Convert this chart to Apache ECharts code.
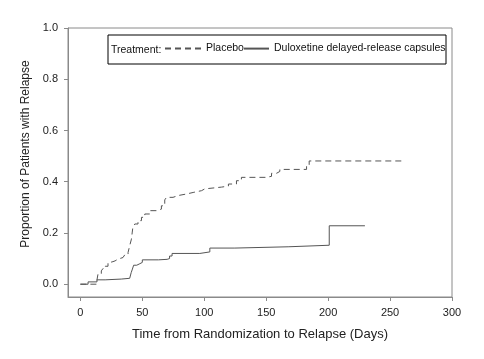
<!DOCTYPE html>
<html><head><meta charset="utf-8">
<script src="https://cdn.jsdelivr.net/npm/echarts@6/dist/echarts.min.js"></script>
<style>html,body{margin:0;padding:0;background:#fff}#c{width:484px;height:359px}</style>
</head><body><div id="c"></div>
<script>
const xTicks = [0, 50, 100, 150, 200, 250, 300];
const yTicks = [0, 0.2, 0.4, 0.6, 0.8, 1.0];
const seriesNames = ['Placebo', 'Duloxetine delayed-release capsules'];
const placeboDays = [0,12.9,13.5,14.2,16.9,18.2,20,22.3,24,26.3,28,30.4,34.4,36,38.5,39.8,41.2,41.8,42.3,43.9,46.5,49.3,52,56,61.4,65.4,68.1,69.5,74.8,78.9,85.6,91,97.8,100.4,114,119.5,126,130,150,154.3,158.4,161,182.6,184.7,261];
const placeboVals = [0,0.01,0.02,0.039,0.052,0.061,0.07,0.085,0.088,0.091,0.098,0.104,0.11,0.116,0.124,0.15,0.176,0.2,0.22,0.235,0.248,0.261,0.274,0.287,0.293,0.306,0.329,0.339,0.346,0.352,0.358,0.365,0.372,0.379,0.383,0.391,0.404,0.417,0.421,0.433,0.44,0.448,0.466,0.481,0.481];
const dulDays = [0,6.2,13.4,20,33,39.8,41,42,43,45.5,48,50,63,70,72,74,96.4,104.5,124.7,167.7,200.9,229.7];
const dulVals = [0,0.009,0.017,0.02,0.023,0.03,0.045,0.059,0.074,0.08,0.085,0.095,0.097,0.1,0.11,0.12,0.126,0.141,0.146,0.152,0.228,0.228];

const font = 'Arial, "Liberation Sans", sans-serif';
const chart = echarts.init(document.getElementById('c'), null, {renderer: 'canvas'});
const legendText = {fontSize: 10.5, fontFamily: font, color: '#111'};
chart.setOption({
  animation: false,
  backgroundColor: '#fff',
  grid: {left: 68, top: 28, right: 32, bottom: 62, show: true, borderColor: '#8a8a8a', borderWidth: 1},
  graphic: [
    {type: 'rect', shape: {x: 108, y: 35, width: 338, height: 29}, style: {fill: null, stroke: '#000', lineWidth: 1}},
    {type: 'text', x: 111, y: 50, style: {text: 'Treatment:', font: '10.5px ' + font, fill: '#111', verticalAlign: 'middle'}}
  ],
  legend: [
    {data: [seriesNames[0]], left: 164, top: 43, padding: 0, itemWidth: 36, itemHeight: 14, itemGap: 5, textStyle: legendText, itemStyle: {opacity: 0}},
    {data: [seriesNames[1]], left: 243, top: 43, padding: 0, itemWidth: 25, itemHeight: 14, itemGap: 5, textStyle: legendText, itemStyle: {opacity: 0}}
  ],
  xAxis: {
    type: 'value', min: -10, max: 300,
    name: 'Time from Randomization to Relapse (Days)', nameLocation: 'middle', nameGap: 31,
    nameTextStyle: {fontSize: 13, fontFamily: font, color: '#222'},
    axisLine: {show: true, onZero: false, lineStyle: {color: '#8a8a8a'}},
    axisTick: {show: true, length: 4, lineStyle: {color: '#8a8a8a'}, customValues: xTicks},
    axisLabel: {fontSize: 11, fontFamily: font, color: '#222', margin: 10, customValues: xTicks},
    splitLine: {show: false}
  },
  yAxis: {
    type: 'value', min: -0.05, max: 1.0,
    name: 'Proportion of Patients with Relapse', nameLocation: 'middle', nameGap: 34,
    nameTextStyle: {fontSize: 12, fontFamily: font, color: '#222', padding: [0, 0, 0, 17]},
    axisLine: {show: true, onZero: false, lineStyle: {color: '#8a8a8a'}},
    axisTick: {show: true, length: 4, lineStyle: {color: '#8a8a8a'}, customValues: yTicks},
    axisLabel: {fontSize: 11, fontFamily: font, color: '#222', margin: 10, customValues: yTicks, formatter: v => v.toFixed(1)},
    splitLine: {show: false}
  },
  series: [
    {name: seriesNames[0], type: 'line', step: 'end', symbol: 'none', data: placeboDays.map((d, i) => [d, placeboVals[i]]),
     lineStyle: {color: '#555', width: 1, type: [6, 4]}, itemStyle: {color: '#555'}},
    {name: seriesNames[1], type: 'line', step: 'end', symbol: 'none', data: dulDays.map((d, i) => [d, dulVals[i]]),
     lineStyle: {color: '#555', width: 1, type: 'solid'}, itemStyle: {color: '#555'}}
  ]
});
</script></body></html>
